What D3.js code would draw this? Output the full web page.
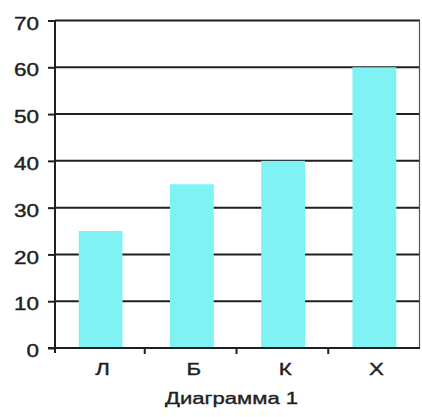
<!DOCTYPE html>
<html><head><meta charset="utf-8">
<script src="https://cdn.jsdelivr.net/npm/d3@7"></script>
<style>body{margin:0;background:#fff;}svg{display:block;font-family:"Liberation Sans",Arial,sans-serif;}</style>
</head><body>
<svg id="c" width="422" height="417"></svg>
<script>
const categories = ["Л","Б","К","Х"];
const values = [25,35,40,60];
const yTicks = [0,10,20,30,40,50,60,70];
const caption = "Диаграмма 1";

const svg = d3.select("#c");
const pLeft = 55, pRight = 420, pTop = 20.5, pBottom = 348;
const x = d3.scaleBand().domain(categories).range([pLeft, pRight]).paddingInner(0.52).paddingOuter(0.26);
const xb = d3.scaleBand().domain(categories).range([pLeft-2, pRight]);
const y = d3.scaleLinear().domain([0,70]).range([pBottom, pTop]);
const ink = "#1f1f1f";

// gridlines
svg.append("g").selectAll("line").data(yTicks.slice(1)).join("line")
  .attr("x1", pLeft).attr("x2", pRight).attr("y1", d=>y(d)).attr("y2", d=>y(d))
  .attr("stroke",ink).attr("stroke-width",2);
// right border
svg.append("line").attr("x1",pRight-0.5).attr("x2",pRight-0.5).attr("y1",y(70)).attr("y2",pBottom)
  .attr("stroke","#555").attr("stroke-width",1.2);

// bars
svg.append("g").selectAll("rect").data(values).join("rect")
  .attr("x",(d,i)=>x(categories[i])).attr("width",x.bandwidth())
  .attr("y",d=>y(d)).attr("height",d=>y(0)-y(d))
  .attr("fill","#7ff3f3");

// y axis
const ya = svg.append("g").attr("transform",`translate(${pLeft},0)`)
  .call(d3.axisLeft(y).tickValues(yTicks).tickSize(7).tickFormat(d3.format("d")));
ya.select(".domain").attr("stroke",ink).attr("stroke-width",2).attr("d",`M0,${y(70)}V${pBottom+5}`);
ya.selectAll(".tick line").attr("stroke",ink).attr("stroke-width",2);
ya.selectAll(".tick text")
  .attr("x",0).attr("dy",null).attr("y",null)
  .attr("dominant-baseline","central")
  .attr("transform","translate(-16,2.5) scale(1.25,1)")
  .attr("font-size",18).attr("fill",ink).attr("stroke",ink).attr("stroke-width",0.4)
  .attr("font-family","Liberation Sans, Arial, sans-serif");

// x axis
const xa = svg.append("g").attr("transform",`translate(0,${pBottom})`);
xa.append("line").attr("x1",pLeft-7).attr("x2",pRight).attr("y1",0).attr("y2",0).attr("stroke",ink).attr("stroke-width",2);
xa.selectAll("line.t").data(categories.slice(1)).join("line").attr("class","t")
  .attr("x1",d=>xb(d)).attr("x2",d=>xb(d)).attr("y1",0).attr("y2",6).attr("stroke",ink).attr("stroke-width",2);
xa.selectAll("text").data(categories).join("text")
  .attr("transform",d=>`translate(${x(d)+x.bandwidth()/2+2},27) scale(1.35,1)`)
  .attr("text-anchor","middle").attr("font-size",16.5).attr("fill",ink)
  .attr("stroke",ink).attr("stroke-width",0.4).text(d=>d);

svg.append("text").attr("transform","translate(231.5,403.5) scale(1.38,1)").attr("text-anchor","middle")
  .attr("font-size",16).attr("fill",ink).attr("stroke",ink).attr("stroke-width",0.35).text(caption);
</script>
</body></html>
